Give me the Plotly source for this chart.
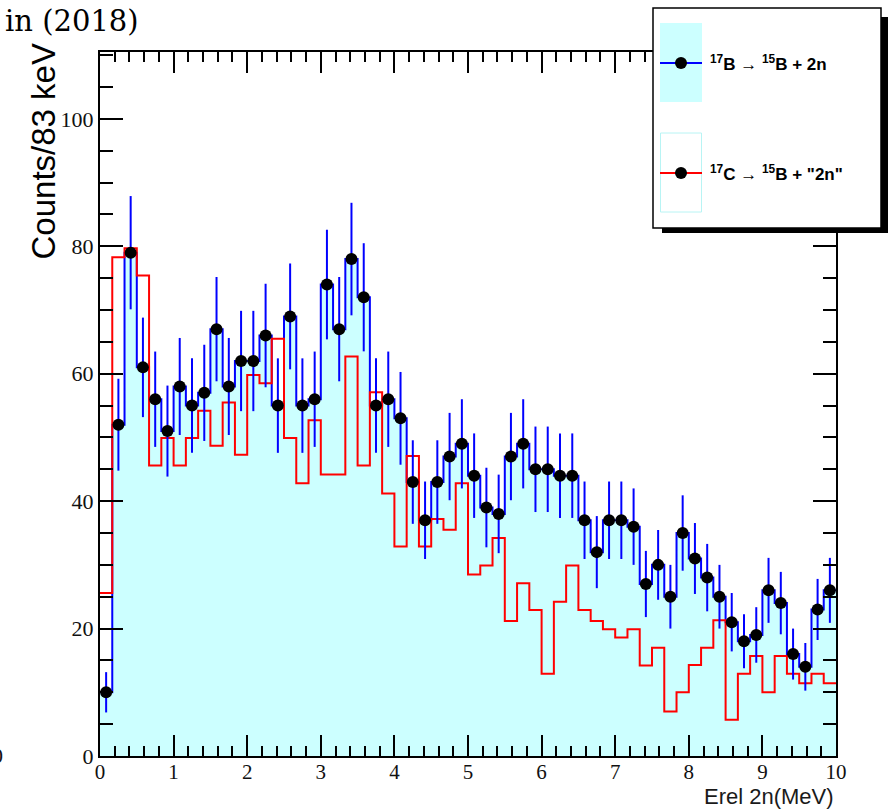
import numpy as np
import plotly.graph_objects as go

# Relative energy binning: 60 bins over 0-10 MeV
E_MIN, E_MAX, N_BINS = 0.0, 10.0, 60

# 17B -> 15B + 2n : counts per bin
b17_counts = [10, 52, 79, 61, 56, 51, 58, 55, 57, 67,
              58, 62, 62, 66, 55, 69, 55, 56, 74, 67,
              78, 72, 55, 56, 53, 43, 37, 43, 47, 49,
              44, 39, 38, 47, 49, 45, 45, 44, 44, 37,
              32, 37, 37, 36, 27, 30, 25, 35, 31, 28,
              25, 21, 18, 19, 26, 24, 16, 14, 23, 26]

# 17C -> 15B + "2n" : normalised spectrum per bin
c17_scaled = [25.6, 78.3, 79.7, 75.4, 45.6, 49.9, 45.6, 49.9, 54.2, 48.7,
              55.5, 47.3, 59.8, 58.5, 65.5, 49.9, 42.8, 52.7, 44.2, 44.2,
              62.7, 45.6, 57.1, 41.2, 32.9, 47.1, 32.9, 37.2, 35.5, 42.8,
              28.5, 29.9, 34.2, 21.2, 27.1, 22.9, 12.9, 24.2, 29.9, 22.9,
              21.2, 19.9, 18.6, 19.9, 14.2, 17.0, 7.0, 10.0, 14.3, 17.0,
              21.3, 5.7, 12.9, 15.7, 10.0, 15.7, 12.9, 11.4, 12.9, 11.4]

legend_labels = ["<b><sup>17</sup>B</b> \u2192 <b><sup>15</sup>B + 2n</b>",
                 "<b><sup>17</sup>C</b> \u2192 <b><sup>15</sup>B + \"2n\"</b>"]

edges = np.linspace(E_MIN, E_MAX, N_BINS + 1)
centers = 0.5 * (edges[:-1] + edges[1:])
counts = np.array(b17_counts, dtype=float)
scaled = np.array(c17_scaled, dtype=float)

# step outlines: each bin value held from its lower edge to the upper edge
step_x = list(edges[:-1]) + [edges[-1]]

FILL = "#ccffff"
BLUE = "#0000ff"
RED = "#ff0000"

fig = go.Figure()

fig.add_trace(go.Scatter(
    x=step_x, y=list(counts) + [counts[-1]],
    mode="lines", line_shape="hv",
    line=dict(color=BLUE, width=2),
    fill="tozeroy", fillcolor=FILL,
    showlegend=False, hoverinfo="skip"))

fig.add_trace(go.Scatter(
    x=step_x, y=list(scaled) + [scaled[-1]],
    mode="lines", line_shape="hv",
    line=dict(color=RED, width=2),
    showlegend=False, hoverinfo="skip"))

fig.add_trace(go.Scatter(
    x=centers, y=counts, mode="markers",
    marker=dict(color="black", size=12),
    error_y=dict(type="data", array=np.sqrt(counts),
                 color=BLUE, thickness=2, width=0),
    showlegend=False))

# plot area in page pixels
L, R, T, B = 100, 836, 52, 756
W, H = 894, 809


def px(x):
    return (x - L) / (R - L)


def py(y):
    return (B - y) / (B - T)


serif_ticks = dict(family="Liberation Serif", size=22, color="#111111")
serif_xticks = dict(family="Liberation Serif", size=21, color="#111111")

fig.update_layout(
    width=W, height=H,
    margin=dict(l=L, r=W - R, t=T, b=H - B, pad=0),
    paper_bgcolor="white", plot_bgcolor="white",
    xaxis=dict(range=[E_MIN, E_MAX], showgrid=False, zeroline=False,
               showline=True, linecolor="black", linewidth=2, mirror="ticks",
               ticks="inside", ticklen=21, tickwidth=2, tickcolor="black",
               tick0=0, dtick=1, tickfont=serif_xticks, ticklabelstandoff=-4,
               minor=dict(dtick=0.2, ticks="inside", ticklen=10,
                          tickwidth=2, tickcolor="black")),
    yaxis=dict(range=[0, 110.5], showgrid=False, zeroline=False,
               showline=True, linecolor="black", linewidth=2, mirror="ticks",
               ticks="inside", ticklen=23, tickwidth=2, tickcolor="black",
               tick0=0, dtick=20, tickfont=serif_ticks,
               minor=dict(dtick=5, ticks="inside", ticklen=13,
                          tickwidth=2, tickcolor="black")),
)

annotations = [
    dict(text="in (2018)", x=px(3), y=py(21), xref="paper", yref="paper",
         xanchor="left", yanchor="middle", showarrow=False,
         font=dict(family="DejaVu Serif", size=29, color="black")),
    dict(text="0", x=px(5), y=py(755), xref="paper", yref="paper",
         xanchor="right", yanchor="middle", showarrow=False,
         font=serif_ticks),
    dict(text="Counts/83 keV", x=px(43), y=py(151.5), xref="paper", yref="paper",
         xanchor="center", yanchor="middle", textangle=-90, showarrow=False,
         font=dict(family="Liberation Sans", size=33, color="black")),
    dict(text="Erel 2n(MeV)", x=px(836), y=py(796.5), xref="paper", yref="paper",
         xanchor="right", yanchor="middle", showarrow=False,
         font=dict(family="Liberation Sans", size=22, color="#1a1a1a")),
]

# legend panel with drop shadow
shapes = [
    dict(type="rect", xref="paper", yref="paper", layer="above",
         x0=px(662), x1=px(888), y0=py(17), y1=py(233),
         fillcolor="black", line=dict(width=0)),
    dict(type="rect", xref="paper", yref="paper", layer="above",
         x0=px(653), x1=px(881), y0=py(8), y1=py(228),
         fillcolor="white", line=dict(color="black", width=1.5)),
    dict(type="rect", xref="paper", yref="paper", layer="above",
         x0=px(660), x1=px(702), y0=py(23), y1=py(102),
         fillcolor=FILL, line=dict(width=0)),
    dict(type="rect", xref="paper", yref="paper", layer="above",
         x0=px(660.5), x1=px(701.5), y0=py(133), y1=py(212),
         fillcolor="rgba(0,0,0,0)", line=dict(color="#b8f4f4", width=1)),
]
entry_rows = [63, 173]
entry_colors = [BLUE, RED]
for row, col, label in zip(entry_rows, entry_colors, legend_labels):
    shapes.append(dict(type="line", xref="paper", yref="paper", layer="above",
                       x0=px(660), x1=px(702), y0=py(row), y1=py(row),
                       line=dict(color=col, width=2)))
    shapes.append(dict(type="circle", xref="paper", yref="paper", layer="above",
                       xsizemode="pixel", ysizemode="pixel",
                       xanchor=px(681), yanchor=py(row),
                       x0=-6, x1=6, y0=-6, y1=6,
                       fillcolor="black", line=dict(color="black", width=0)))
    annotations.append(dict(text=label, x=px(708), y=py(row),
                            xref="paper", yref="paper",
                            xanchor="left", yanchor="middle", showarrow=False,
                            font=dict(family="Liberation Sans", size=17,
                                      color="black")))

fig.update_layout(annotations=annotations, shapes=shapes)

fig.write_html("out.html")
